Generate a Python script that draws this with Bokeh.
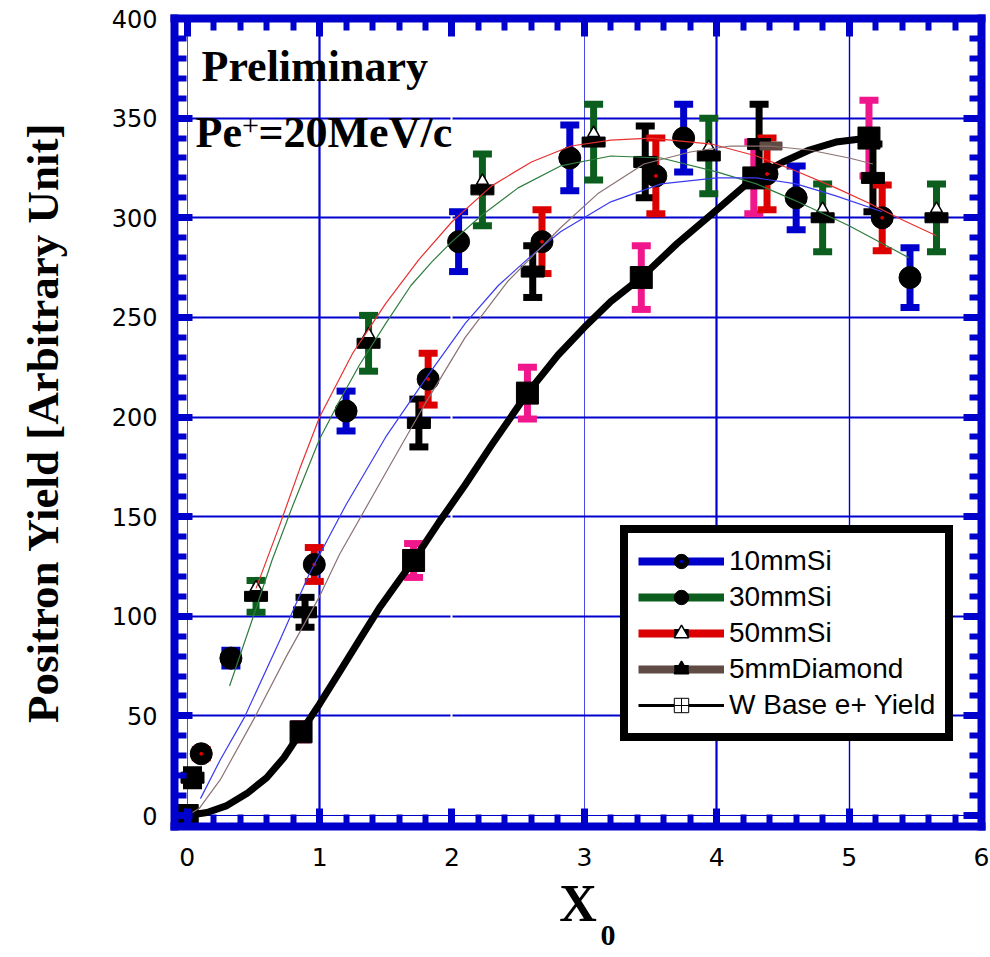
from bokeh.plotting import figure
from bokeh.models import (ColumnDataSource, Whisker, TeeHead, Legend, LegendItem, Label,
                          Range1d, SingleIntervalTicker, FixedTicker, LinearAxis, Grid,
                          CustomJSTickFormatter)
from bokeh.transform import dodge
from bokeh.embed import file_html
from bokeh.resources import INLINE

NAN = float("nan")

# ---------------- data ----------------
# black error bars, black bar markers
k_x = [0.04, 0.89, 1.75, 2.61, 3.46, 4.32, 5.18]
k_y = [19, 102, 197, 273, 328, 337, 320]
k_err = [4, 7.5, 12, 13, 18, 20, 17]
# red error bars, circles with red dot
r_x = [0.106, 0.96, 1.82, 2.68, 3.54, 4.38, 5.25]
r_y = [31, 126, 219, 288, 321, 322, 300]
r_err = [2, 8.5, 13, 16, 19, 18, 16.5]
# green error bars, bar + white triangle
g_x = [0.52, 1.37, 2.23, 3.07, 3.94, 4.80, 5.66]
g_y = [110, 237, 314, 338, 331, 300, 300]
g_err = [8, 14, 18, 19, 19, 17, 17]
# blue error bars, plain circles
b_x = [0.33, 1.20, 2.05, 2.89, 3.75, 4.60, 5.46]
b_y = [79, 203, 288, 330, 340, 310, 270]
b_err = [4, 10, 15, 16.5, 17, 16, 15]
# pink error bars, big squares (W base e+ yield)
w_x = [0.0, 0.86, 1.71, 2.57, 3.43, 4.28, 5.15]
w_y = [0, 42, 128, 212, 270, 320, 340]
w_err = [0, 4, 8.5, 13, 16, 18, 19]
# single brown marker
d_x = [4.41]
d_y = [336]

# trend lines
fb_x = [0.32, 0.5, 0.64, 0.8, 1.0, 1.15, 1.3, 1.5, 1.69, 1.85, 2.0, 2.22, 2.5, 2.82, 3.2, 3.58, 4.0, 4.3, 4.58, 5.0, 5.45]
fb_y = [65, 100, 128, 156, 189, 208, 226, 247, 266, 278, 288, 301, 315, 326, 331, 330, 323, 317, 309, 296, 280]
fg_x = [0.52, 0.7, 0.85, 1.0, 1.25, 1.5, 1.75, 2.0, 2.3, 2.6, 2.9, 3.2, 3.5, 3.96, 4.3, 4.58, 4.9, 5.16, 5.4, 5.66]
fg_y = [114, 146, 174, 200, 232, 257, 279, 298, 316, 328, 336, 339, 340, 337, 331, 324, 315, 307, 299, 291]
fr_x = [0.1, 0.25, 0.43, 0.7, 0.92, 1.2, 1.5, 1.82, 2.1, 2.35, 2.6, 2.82, 3.2, 3.58, 4.0, 4.3, 4.6, 4.9, 5.25]
fr_y = [8.5, 28, 49, 88, 121, 156, 190, 221, 247, 266, 281, 293, 308, 317, 320, 320, 317, 311, 303]
fk_x = [0.0, 0.09, 0.25, 0.5, 0.75, 1.0, 1.15, 1.5, 1.8, 2.1, 2.42, 2.82, 3.1, 3.45, 3.8, 4.1, 4.4, 4.7, 5.0, 5.18]
fk_y = [0, 3.5, 18, 48, 80, 110, 131, 172, 207, 240, 268, 295, 312, 327, 333, 336, 336, 334, 330, 327]
fw_x = [0, 0.15, 0.3, 0.45, 0.6, 0.73, 0.86, 1.0, 1.15, 1.3, 1.45, 1.6, 1.71, 1.9, 2.1, 2.3, 2.57, 2.8,
        3.0, 3.2, 3.43, 3.7, 4.0, 4.28, 4.5, 4.7, 4.9, 5.15]
fw_y = [0, 1.5, 5, 11, 19, 29, 42, 56, 72, 88, 104, 118, 128, 147, 166, 186, 212, 231,
        245, 258, 270, 287, 304, 320, 328, 334, 338, 340]

legend_labels = ["10mmSi", "30mmSi", "50mmSi", "5mmDiamond", "W Base e+ Yield"]

BLUE = "#0000CC"
GREEN = "#0B5E1E"
RED = "#DD0000"
PINK = "#F0168C"
BROWN = "#604A44"

p = figure(width=990, height=957, x_range=Range1d(-0.096, 6.0), y_range=Range1d(-5.5, 400),
           output_backend="svg", toolbar_location=None, x_axis_type=None, y_axis_type=None,
           min_border_left=174, min_border_right=9, min_border_top=18, min_border_bottom=131)
p.outline_line_color = None
p.background_fill_color = "white"
p.border_fill_color = "white"

xt = SingleIntervalTicker(interval=1, num_minor_ticks=5)
yt = SingleIntervalTicker(interval=50, num_minor_ticks=5)


def style_axis(ax):
    ax.axis_line_color = BLUE
    ax.axis_line_width = 8
    ax.axis_line_cap = "square"
    ax.major_tick_line_color = BLUE
    ax.major_tick_line_width = 7
    ax.major_tick_in = 18
    ax.major_tick_out = 0
    ax.minor_tick_line_color = BLUE
    ax.minor_tick_line_width = 6
    ax.minor_tick_in = 12
    ax.minor_tick_out = 0


xb = LinearAxis(ticker=xt)
style_axis(xb)
xb.major_label_text_font = "DejaVu Sans"
xb.major_label_text_font_size = "25px"
xb.major_label_text_color = "black"
xb.major_label_standoff = 21
xb.axis_label = "X"
xb.axis_label_text_font = "Liberation Serif"
xb.axis_label_text_font_style = "bold"
xb.axis_label_text_font_size = "52px"
xb.axis_label_text_color = "black"
xb.axis_label_standoff = 6
p.add_layout(xb, "below")

# second, tick-less axis below that only carries the subscript of the x title
xsub = LinearAxis(ticker=FixedTicker(ticks=[]), axis_line_color=None, major_tick_line_color=None,
                  minor_tick_line_color=None, major_label_standoff=0, major_tick_out=0,
                  major_tick_in=0, minor_tick_out=0, minor_tick_in=0)
xsub.axis_label = "\u2007\u2007\u2007\u20070"
xsub.axis_label_text_font = "Liberation Serif"
xsub.axis_label_text_font_style = "bold"
xsub.axis_label_text_font_size = "30px"
xsub.axis_label_text_color = "black"
xsub.axis_label_standoff = -17
p.add_layout(xsub, "below")

yl = LinearAxis(ticker=yt)
style_axis(yl)
yl.major_label_text_font = "DejaVu Sans"
yl.major_label_text_font_size = "24px"
yl.major_label_text_color = "black"
yl.major_label_standoff = 17
yl.axis_label = "Positron Yield [Arbitrary Unit]"
yl.axis_label_text_font = "Liberation Serif"
yl.axis_label_text_font_style = "bold"
yl.axis_label_text_font_size = "45px"
yl.axis_label_text_color = "black"
yl.axis_label_standoff = 41
p.add_layout(yl, "left")

blank = CustomJSTickFormatter(code="return ''")
xtop = LinearAxis(ticker=xt, formatter=blank, major_label_standoff=0)
style_axis(xtop)
p.add_layout(xtop, "above")
yright = LinearAxis(ticker=yt, formatter=blank, major_label_standoff=0)
style_axis(yright)
p.add_layout(yright, "right")

# grid lines
p.add_layout(Grid(dimension=0, ticker=FixedTicker(ticks=[1, 4]), grid_line_color=BLUE, grid_line_width=2.2))
p.add_layout(Grid(dimension=0, ticker=FixedTicker(ticks=[5]), grid_line_color=BLUE, grid_line_width=1.4))
p.add_layout(Grid(dimension=0, ticker=FixedTicker(ticks=[0, 3]), grid_line_color="#4A4AE0", grid_line_width=1))
p.add_layout(Grid(dimension=1, ticker=FixedTicker(ticks=[50, 100, 150, 200, 250, 300, 350]),
                  grid_line_color=BLUE, grid_line_width=2))
p.add_layout(Grid(dimension=1, ticker=FixedTicker(ticks=[0]), grid_line_color=BLUE, grid_line_width=1))
p.add_layout(Grid(dimension=0, ticker=FixedTicker(ticks=[2]), grid_line_color="white", grid_line_width=2))


def add_err(xs, ys, errs, color):
    src = ColumnDataSource(dict(x=xs, upper=[y + e for y, e in zip(ys, errs)],
                                lower=[y - e for y, e in zip(ys, errs)]))
    w = Whisker(source=src, base="x", upper="upper", lower="lower", dimension="height",
                line_color=color, line_width=7,
                upper_head=TeeHead(size=19, line_color=color, line_width=7),
                lower_head=TeeHead(size=19, line_color=color, line_width=7),
                level="underlay")
    p.add_layout(w)


add_err(w_x, w_y, w_err, PINK)
add_err(k_x, k_y, k_err, "black")
add_err(g_x, g_y, g_err, GREEN)
add_err(b_x, b_y, b_err, BLUE)
add_err(r_x, r_y, r_err, RED)

# W base thick line and squares
p.line(fw_x, fw_y, line_color="black", line_width=7, line_join="round")
p.scatter(w_x, w_y, marker="square", size=22, fill_color="black", line_color="black")

# black bar series
p.rect(k_x, k_y, width=23, height=11, width_units="screen", height_units="screen",
       fill_color="black", line_color="black")
# brown marker
p.rect(d_x, d_y, width=22, height=8, width_units="screen", height_units="screen",
       fill_color=BROWN, line_color=BROWN)
# green series: bar + white triangle
gsrc = ColumnDataSource(dict(x=g_x, y=g_y))
p.rect("x", "y", width=23, height=10, width_units="screen", height_units="screen",
       fill_color="black", line_color="black", source=gsrc)
p.scatter(x="x", y=dodge("y", 4.5, range=p.y_range), source=gsrc, marker="triangle", size=12,
          fill_color="white", line_color="black", line_width=1.5)
# blue-bar circles
p.scatter(b_x, b_y, marker="circle", size=22, fill_color="black", line_color="black")
# red-bar circles with red dot
p.scatter(r_x, r_y, marker="circle", size=22, fill_color="black", line_color="black")
p.scatter(r_x, r_y, marker="circle", size=3, fill_color=RED, line_color=RED)

# trend lines
p.line(fb_x, fb_y, line_color="#2E7D3E", line_width=1.2, line_join="round")
p.line(fg_x, fg_y, line_color="#E83030", line_width=1.2, line_join="round")
p.line(fr_x, fr_y, line_color="#3A3AF0", line_width=1.2, line_join="round")
p.line(fk_x, fk_y, line_color="#8C7272", line_width=1.2, line_join="round")


# ---- legend (off-screen NaN renderers used only for the legend glyphs) ----
def leg_line(color, width):
    return p.line(x=[NAN], y=[NAN], line_color=color, line_width=width)


def leg_mark(marker, fill, line="black", lw=1):
    return p.scatter(x=[NAN], y=[NAN], marker=marker, size=14, fill_color=fill, line_color=line,
                     line_width=lw)


items = [
    LegendItem(label=legend_labels[0], renderers=[leg_line(BLUE, 8), leg_mark("circle", "black"),
                                                  leg_mark("dot", BLUE, BLUE)]),
    LegendItem(label=legend_labels[1], renderers=[leg_line(GREEN, 8), leg_mark("circle", "black")]),
    LegendItem(label=legend_labels[2], renderers=[leg_line(RED, 8), leg_mark("dash", "black", "black", 9),
                                                  leg_mark("triangle", "white", "black", 1.5)]),
    LegendItem(label=legend_labels[3], renderers=[leg_line(BROWN, 8), leg_mark("dash", "black", "black", 9),
                                                  leg_mark("triangle", "black", "black", 1.5)]),
    LegendItem(label=legend_labels[4], renderers=[leg_line("black", 3),
                                                  leg_mark("square_cross", "white", "black", 1)]),
]
legend = Legend(items=items, location=(446, 85), border_line_color="black", border_line_width=8,
                border_line_alpha=1.0,
                background_fill_color="white", background_fill_alpha=1.0, padding=10, spacing=0,
                margin=0, glyph_width=86, glyph_height=36, label_height=36, label_standoff=5,
                label_text_font="Liberation Sans", label_text_font_size="28px",
                label_text_color="black")
p.add_layout(legend)

# ---- annotations ----
common = dict(x_units="screen", y_units="screen", text_font="Liberation Serif",
              text_font_style="bold", text_color="black")
p.add_layout(Label(x=27, y=736, text="Preliminary", text_font_size="44px", **common))
p.add_layout(Label(x=21, y=670, text="Pe", text_font_size="44px", **common))
p.add_layout(Label(x=76, y=701, text="+", text_font_size="30px", text_align="center",
                   text_baseline="middle", x_units="screen", y_units="screen",
                   text_font="Liberation Serif", text_color="black"))
p.add_layout(Label(x=84, y=670, text="=20MeV/c", text_font_size="44px", **common))

open("out.html", "w").write(file_html(p, INLINE))
